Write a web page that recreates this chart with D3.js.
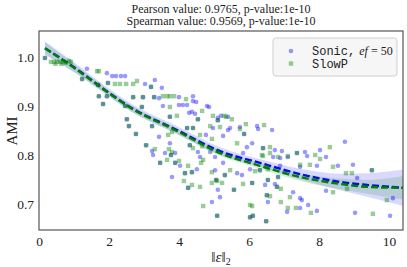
<!DOCTYPE html>
<html>
<head>
<meta charset="utf-8">
<script src="https://cdn.jsdelivr.net/npm/d3@7"></script>
<style>
  body { margin: 0; background: #fff; }
  text { font-family: "Liberation Serif", "DejaVu Serif", serif; fill: #222; }
</style>
</head>
<body>
<svg id="chart" width="407" height="267"></svg>
<script>
// points only one method produced
var sonic_only = [
  [1.37,0.976],[1.94,0.967],[2.09,0.961],[2.20,0.961],[2.34,0.961],[2.46,0.961],
  [3.03,0.945],[3.31,0.953],[3.51,0.937],[3.43,0.916],[4.00,0.918],[4.40,0.920],
  [4.40,0.910],[4.49,0.908],[3.54,0.900],[4.00,0.902],[4.11,0.902],[4.23,0.902],
  [4.29,0.886],[4.37,0.888],[4.46,0.884],[4.80,0.900],[4.86,0.898],[5.11,0.876],
  [4.97,0.855],[5.20,0.880],[5.40,0.878],[5.46,0.855],[5.40,0.851],[5.74,0.857],
  [6.23,0.859],[6.26,0.853],[6.66,0.851],[3.43,0.837],[3.23,0.808],[3.26,0.800],
  [3.60,0.804],[3.74,0.824],[3.89,0.804],[4.03,0.778],[4.54,0.806],[4.89,0.806],
  [4.60,0.796],[5.03,0.796],[4.51,0.771],[4.77,0.841],[5.03,0.769],[3.80,0.755],
  [5.11,0.729],[4.94,0.704],[5.26,0.839],[6.09,0.824],[5.94,0.816],[6.74,0.810],
  [6.94,0.808],[7.60,0.806],[7.11,0.796],[5.26,0.784],[5.66,0.763],[5.80,0.759],
  [6.03,0.771],[6.89,0.778],[7.46,0.776],[7.03,0.765],[6.46,0.739],[6.74,0.741],
  [7.26,0.724],[7.46,0.712],[7.51,0.708],[7.69,0.698],[6.54,0.704],[7.09,0.684],
  [5.83,0.804],[6.69,0.796],[6.89,0.794],[7.66,0.798],[8.20,0.796],[7.94,0.778],
  [8.54,0.778],[8.97,0.780],[9.09,0.753],[10.11,0.712],[8.20,0.727],[9.03,0.682],
  [10.03,0.676],[7.94,0.686],[7.46,0.692],[5.17,0.714],[8.74,0.827],[8.03,0.810]
];

var slowp_only = [
  [0.34,0.990],[0.43,0.990],[0.51,0.990],[0.60,0.990],[0.69,0.990],[0.77,0.988],
  [0.86,0.992],[0.91,0.990],[0.47,0.986],[0.64,0.986],
  [1.66,0.971],[1.71,0.971],[2.17,0.945],[2.31,0.945],[2.49,0.945],[2.80,0.951],
  [2.69,0.945],[3.54,0.920],[3.66,0.920],[3.74,0.920],[3.86,0.920],[4.20,0.914],
  [3.74,0.898],[4.66,0.890],[4.97,0.880],[3.94,0.880],[4.89,0.859],[5.17,0.857],
  [5.29,0.880],[5.34,0.878],[5.51,0.873],[5.91,0.863],[5.74,0.853],[6.43,0.861],
  [3.69,0.841],[3.80,0.847],[3.31,0.812],[3.71,0.812],[3.80,0.806],[3.66,0.790],
  [4.00,0.788],[4.40,0.814],[4.66,0.818],[5.11,0.808],[4.69,0.790],[4.63,0.784],
  [4.26,0.778],[4.60,0.841],[4.94,0.833],[4.94,0.765],[4.14,0.747],[4.94,0.743],
  [4.37,0.739],[4.60,0.735],[4.69,0.696],[5.09,0.747],[5.66,0.824],[6.60,0.816],
  [6.40,0.798],[6.83,0.796],[5.46,0.769],[6.17,0.767],[6.54,0.771],[5.23,0.743],
  [5.83,0.741],[6.91,0.731],[7.17,0.714],[6.09,0.696],[6.60,0.716],[7.11,0.692],
  [7.34,0.692],[6.37,0.800],[6.60,0.804],[7.11,0.798],[7.89,0.800],[8.03,0.792],
  [7.46,0.780],[7.74,0.780],[8.40,0.776],[8.77,0.763],[8.94,0.763],[8.40,0.724],
  [8.80,0.731],[9.94,0.708],[9.54,0.680],[7.77,0.682],[6.91,0.704],[6.03,0.698],
  [8.31,0.816]
];

// points where both methods sit on top of each other
var shared_points = [
  [0.17,0.998],[1.23,0.955],[1.97,0.947],[1.69,0.943],[1.71,0.920],[1.94,0.920],
  [1.83,0.904],[2.46,0.900],[2.51,0.873],[2.57,0.859],[3.20,0.939],[2.69,0.918],
  [2.97,0.918],[3.29,0.918],[2.94,0.898],[3.74,0.878],[3.23,0.859],[4.23,0.855],
  [4.54,0.873],[4.40,0.855],[5.11,0.871],[2.77,0.843],[3.06,0.820],[3.77,0.800],
  [3.89,0.784],[3.46,0.784],[4.31,0.820],[4.17,0.763],[4.37,0.765],[5.06,0.749],
  [4.26,0.733],[5.09,0.676],[5.86,0.843],[6.40,0.814],[7.37,0.804],[6.31,0.769],
  [6.51,0.776],[5.31,0.759],[6.54,0.749],[6.83,0.755],[5.57,0.729],[6.09,0.743],
  [6.03,0.673],[6.49,0.665],[9.51,0.769],[6.11,0.676],[6.51,0.718],[6.80,0.735]
];

// regression fits: [x, fit, lower, upper]
var sonic_fit = [
  [0.17,1.018,1.004,1.032],[1.0,0.979,0.969,0.989],[2.0,0.927,0.919,0.935],
  [2.6,0.898,0.890,0.906],[3.94,0.851,0.843,0.859],[5.17,0.808,0.800,0.816],
  [6.31,0.784,0.776,0.792],[7.46,0.761,0.750,0.772],[8.6,0.745,0.728,0.762],
  [9.37,0.739,0.715,0.763],[10.4,0.733,0.696,0.770]
];
var slowp_fit = [
  [0.17,1.018,1.006,1.030],[1.0,0.978,0.970,0.986],[2.0,0.926,0.920,0.932],
  [2.6,0.897,0.891,0.903],[3.94,0.849,0.843,0.855],[5.17,0.804,0.798,0.810],
  [6.31,0.778,0.772,0.784],[7.46,0.755,0.747,0.763],[8.6,0.741,0.730,0.752],
  [9.37,0.735,0.721,0.749],[10.4,0.733,0.709,0.757]
];

var x_ticks = [0, 2, 4, 6, 8, 10];
var y_ticks = [0.7, 0.8, 0.9, 1.0];
var title_lines = ["Pearson value: 0.9765, p-value:1e-10", "Spearman value: 0.9569, p-value:1e-10"];

var svg = d3.select("#chart");
var m_left = 39, m_right = 403, m_top = 31, m_bottom = 230;

var x = d3.scaleLinear().domain([0, 10.4]).range([m_left, m_right]);
var y = d3.scaleLinear().domain([0.647, 1.053]).range([m_bottom, m_top]);

svg.append("defs").append("clipPath").attr("id", "plotclip")
  .append("rect").attr("x", m_left).attr("y", m_top).attr("width", m_right - m_left).attr("height", m_bottom - m_top);

var plot = svg.append("g").attr("clip-path", "url(#plotclip)");

var sonic_points = sonic_only.concat(shared_points);
var slowp_points = slowp_only.concat(shared_points);

function draw_fit(fit, color) {
  var band = d3.area().x(d => x(d[0])).y0(d => y(d[2])).y1(d => y(d[3])).curve(d3.curveMonotoneX);
  var line = d3.line().x(d => x(d[0])).y(d => y(d[1])).curve(d3.curveMonotoneX);
  plot.append("path").datum(fit).attr("d", band).attr("fill", color).attr("fill-opacity", 0.15);
  plot.append("path").datum(fit).attr("d", line).attr("fill", "none")
    .attr("stroke", color).attr("stroke-width", 2.4).attr("stroke-dasharray", "7,3");
}

// Sonic: circles
plot.append("g").selectAll("circle").data(sonic_points).enter().append("circle")
  .attr("cx", d => x(d[0])).attr("cy", d => y(d[1])).attr("r", 2.3)
  .attr("fill", "blue").attr("fill-opacity", 0.4);
draw_fit(sonic_fit, "blue");

// SlowP: squares
plot.append("g").selectAll("rect").data(slowp_points).enter().append("rect")
  .attr("x", d => x(d[0]) - 2.2).attr("y", d => y(d[1]) - 2.2)
  .attr("width", 4.4).attr("height", 4.4)
  .attr("fill", "green").attr("fill-opacity", 0.4);
draw_fit(slowp_fit, "green");

// axes, no tick marks
var xAxis = svg.append("g").attr("transform", "translate(0," + m_bottom + ")")
  .call(d3.axisBottom(x).tickValues(x_ticks).tickSize(0).tickPadding(6).tickFormat(d3.format("d")));
var yAxis = svg.append("g").attr("transform", "translate(" + m_left + ",0)")
  .call(d3.axisLeft(y).tickValues(y_ticks).tickSize(0).tickPadding(5).tickFormat(d3.format(".1f")));
[xAxis, yAxis].forEach(function (a) {
  a.attr("font-family", null);
  a.select(".domain").remove();
  a.selectAll("text").style("font-family", "'Liberation Serif', serif").style("font-size", "13.5px").attr("fill", "#222");
});

svg.append("rect").attr("x", m_left).attr("y", m_top).attr("width", m_right - m_left).attr("height", m_bottom - m_top)
  .attr("fill", "none").attr("stroke", "#555").attr("stroke-width", 1.2);

// title
svg.selectAll(".title").data(title_lines).enter().append("text")
  .attr("class", "title").attr("x", (m_left + m_right) / 2).attr("y", (d, i) => 12.5 + i * 12.5)
  .attr("text-anchor", "middle").style("font-size", "12px").text(d => d);

// axis labels
var xl = svg.append("text").attr("x", 221).attr("y", 262).attr("text-anchor", "middle").style("font-size", "15px");
xl.append("tspan").text("\u2016");
xl.append("tspan").style("font-style", "italic").text("\u03b5");
xl.append("tspan").text("\u2016");
xl.append("tspan").attr("dy", 3).style("font-size", "10px").text("2");

svg.append("text").attr("transform", "translate(17,131) rotate(-90)")
  .attr("text-anchor", "middle").style("font-size", "15px").text("AMI");

// legend
var lg = svg.append("g");
lg.append("rect").attr("x", 273).attr("y", 38).attr("width", 124).attr("height", 38).attr("rx", 3)
  .attr("fill", "#f4f4f4").attr("fill-opacity", 0.85).attr("stroke", "#cfcfcf");
lg.append("circle").attr("cx", 291).attr("cy", 51).attr("r", 2.3).attr("fill", "blue").attr("fill-opacity", 0.4);
lg.append("rect").attr("x", 288.8).attr("y", 61.3).attr("width", 4.4).attr("height", 4.4)
  .attr("fill", "green").attr("fill-opacity", 0.4);
var t1 = lg.append("text").attr("x", 312).attr("y", 55).style("font-size", "12px");
t1.append("tspan").style("font-family", "'Liberation Mono', monospace").text("Sonic,");
t1.append("tspan").attr("dx", 4).style("font-style", "italic").text("ef");
t1.append("tspan").text(" = 50");
lg.append("text").attr("x", 312).attr("y", 67.5).style("font-size", "12px")
  .style("font-family", "'Liberation Mono', monospace").text("SlowP");
</script>
</body>
</html>
